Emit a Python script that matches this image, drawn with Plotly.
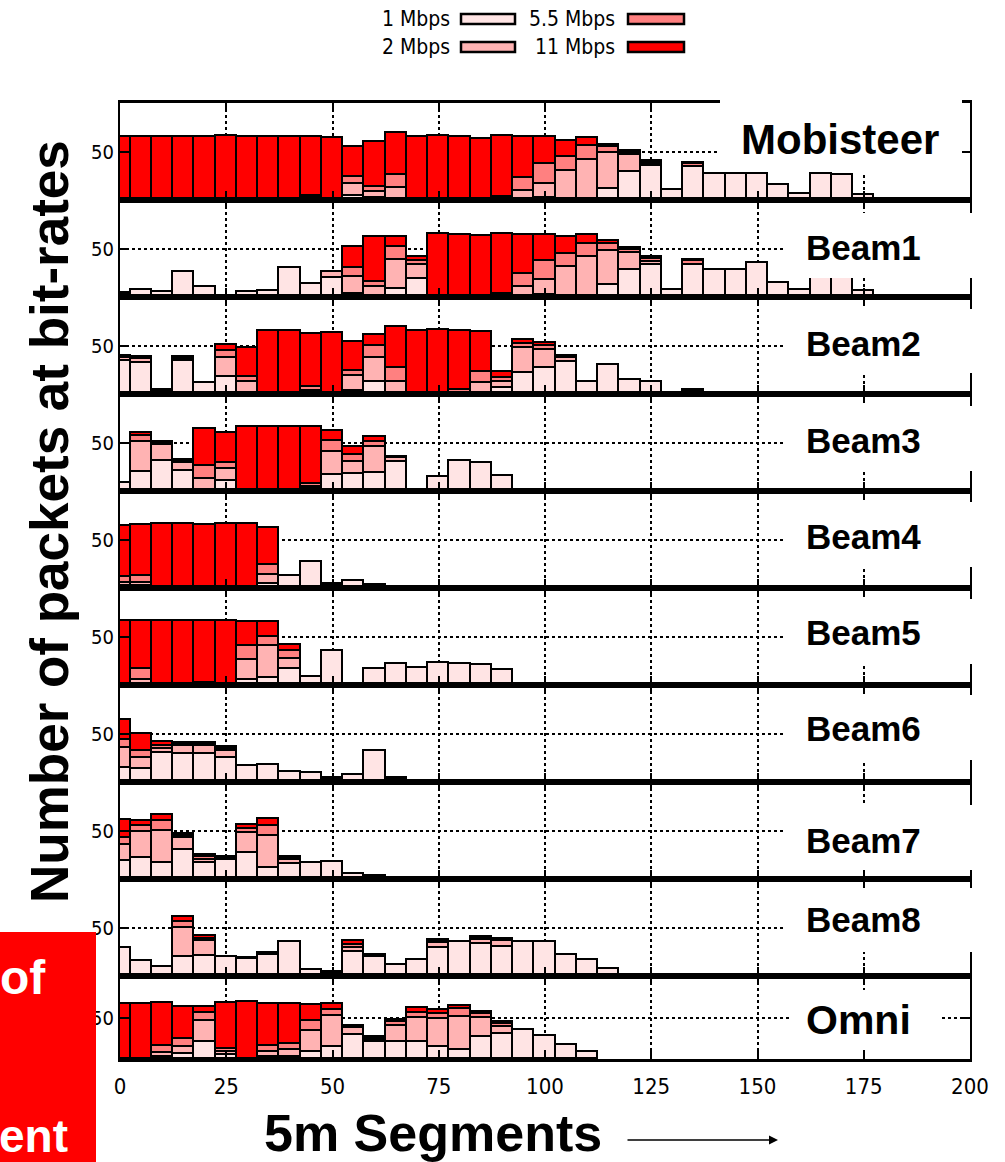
import plotly.graph_objects as go

W, H = 1005, 1162

# ---------------- data ----------------
segments = [0, 5, 10, 15, 20, 25, 30, 35, 40, 45, 50, 55, 60, 65, 70, 75, 80, 85,
            90, 95, 100, 105, 110, 115, 120, 125, 130, 135, 140, 145, 150, 155, 160, 165, 170, 175]
x_ticks = [0, 25, 50, 75, 100, 125, 150, 175, 200]
rate_names = ["1 Mbps", "2 Mbps", "5.5 Mbps", "11 Mbps"]
panel_names = ["Mobisteer", "Beam1", "Beam2", "Beam3", "Beam4", "Beam5", "Beam6", "Beam7", "Beam8", "Omni"]

mob_1 = [0, 0, 0, 0, 0, 0, 0, 0, 0, 1, 0, 4, 2, 1, 0, 0, 0, 0, 0, 1, 2, 1, 0, 11, 29, 35, 10, 34, 27, 27, 27, 16, 6, 27, 26, 5]
mob_2 = [0, 0, 0, 0, 0, 0, 0, 0, 0, 1, 0, 13, 6, 12, 0, 0, 0, 0, 0, 8, 15, 29, 42, 38, 18, 2, 0, 0, 0, 0, 0, 0, 0, 0, 0, 0]
mob_55 = [0, 0, 0, 0, 0, 0, 0, 0, 0, 2, 0, 7, 6, 13, 0, 0, 0, 0, 3, 14, 21, 15, 14, 6, 2, 3, 0, 3, 0, 0, 0, 0, 0, 0, 0, 0]
mob_11 = [66, 66, 66, 66, 66, 67, 66, 66, 66, 62, 65, 31, 46, 44, 66, 67, 66, 64, 64, 43, 28, 16, 9, 2, 2, 1, 0, 2, 0, 0, 0, 0, 0, 0, 0, 0]

b1_1 = [2, 7, 5, 26, 10, 0, 5, 6, 30, 14, 20, 3, 1, 8, 19, 0, 0, 0, 0, 1, 2, 1, 0, 12, 28, 33, 7, 33, 28, 28, 35, 15, 7, 27, 26, 6]
b1_2 = [2, 0, 0, 0, 0, 0, 0, 0, 0, 0, 6, 18, 9, 31, 14, 0, 0, 0, 0, 9, 16, 30, 42, 36, 18, 3, 0, 0, 0, 0, 0, 0, 0, 0, 0, 0]
b1_55 = [0, 0, 0, 0, 0, 0, 0, 0, 0, 0, 0, 9, 6, 13, 5, 0, 0, 0, 3, 14, 20, 14, 13, 7, 3, 4, 0, 4, 0, 0, 0, 0, 0, 0, 0, 0]
b1_11 = [0, 0, 0, 0, 0, 0, 0, 0, 0, 0, 0, 22, 46, 10, 4, 66, 65, 64, 63, 41, 27, 17, 10, 3, 2, 2, 0, 2, 0, 0, 0, 0, 0, 0, 0, 0]

b2_1 = [34, 32, 2, 34, 11, 18, 1, 0, 0, 1, 0, 3, 12, 1, 0, 0, 0, 1, 6, 22, 27, 33, 12, 30, 15, 13, 1, 2]
b2_2 = [4, 4, 1, 2, 0, 19, 11, 0, 0, 2, 0, 16, 25, 12, 0, 0, 1, 10, 6, 26, 19, 5, 0, 0, 0, 0, 0, 1]
b2_55 = [1, 2, 1, 2, 0, 8, 6, 0, 0, 4, 0, 5, 13, 14, 0, 0, 3, 12, 5, 4, 4, 1, 0, 0, 0, 0, 0, 1]
b2_11 = [1, 1, 0, 1, 0, 6, 30, 66, 66, 55, 64, 30, 11, 43, 66, 67, 62, 42, 6, 4, 3, 1, 0, 0, 0, 0, 0, 0]

b3_1 = [8, 20, 31, 21, 1, 10, 0, 0, 0, 2, 17, 18, 19, 30, 0, 15, 31, 29, 16]
b3_2 = [0, 31, 17, 8, 12, 13, 0, 0, 0, 2, 24, 12, 27, 4, 0, 0, 0, 0, 0]
b3_55 = [0, 6, 2, 2, 13, 6, 0, 0, 0, 3, 11, 7, 5, 1, 0, 0, 0, 0, 0]
b3_11 = [0, 3, 1, 1, 39, 31, 67, 67, 67, 60, 11, 9, 5, 0, 0, 0, 0, 0, 0]

b4_1 = [2, 2, 0, 0, 0, 0, 0, 4, 13, 27, 2, 7, 2]
b4_2 = [3, 3, 0, 0, 0, 0, 0, 10, 0, 0, 1, 0, 1]
b4_55 = [6, 7, 0, 0, 0, 0, 0, 10, 0, 0, 1, 0, 0]
b4_11 = [54, 54, 67, 67, 66, 67, 67, 39, 0, 0, 0, 0, 0]

b5_1 = [0, 1, 0, 0, 0, 0, 5, 7, 17, 8, 35, 0, 17, 22, 18, 23, 22, 21, 16]
b5_2 = [0, 4, 0, 0, 0, 0, 21, 34, 10, 0, 0, 0, 0, 0, 0, 0, 0, 0, 0]
b5_55 = [0, 12, 0, 0, 2, 0, 15, 9, 8, 0, 0, 0, 0, 0, 0, 0, 0, 0, 0]
b5_11 = [67, 50, 67, 67, 65, 67, 25, 16, 7, 0, 0, 0, 0, 0, 0, 0, 0, 0, 0]

b6_1 = [15, 14, 30, 29, 29, 25, 17, 18, 10, 9, 3, 7, 32, 3]
b6_2 = [20, 11, 4, 8, 8, 7, 0, 0, 0, 0, 1, 0, 0, 1]
b6_55 = [9, 7, 4, 2, 2, 2, 0, 0, 0, 0, 0, 0, 0, 0]
b6_11 = [21, 18, 4, 2, 2, 2, 0, 0, 0, 0, 0, 0, 0, 0]

b7_1 = [19, 22, 17, 30, 17, 20, 27, 11, 16, 17, 18, 5, 2]
b7_2 = [16, 27, 33, 13, 3, 2, 21, 34, 4, 0, 0, 0, 1]
b7_55 = [8, 6, 10, 2, 3, 1, 4, 10, 2, 0, 0, 0, 0]
b7_11 = [18, 5, 7, 2, 2, 0, 4, 8, 1, 0, 0, 0, 0]

b8_1 = [29, 16, 9, 20, 21, 20, 18, 22, 35, 6, 2, 25, 20, 11, 17, 29, 35, 33, 30, 35, 35, 22, 17, 7]
b8_2 = [0, 0, 0, 30, 15, 0, 1, 2, 0, 0, 1, 4, 2, 0, 0, 5, 0, 5, 6, 0, 0, 0, 0, 0]
b8_55 = [0, 0, 0, 6, 3, 0, 0, 0, 0, 0, 1, 3, 0, 0, 0, 2, 0, 1, 1, 0, 0, 0, 0, 0]
b8_11 = [0, 0, 0, 5, 3, 0, 0, 0, 0, 0, 0, 4, 0, 0, 0, 2, 0, 2, 2, 0, 0, 0, 0, 0]

om_1 = [0, 0, 2, 6, 21, 5, 0, 2, 3, 8, 15, 29, 20, 20, 20, 15, 11, 26, 30, 35, 28, 17, 8]
om_2 = [0, 0, 5, 9, 25, 3, 0, 7, 8, 26, 37, 8, 3, 20, 30, 33, 40, 24, 8, 0, 0, 0, 0]
om_55 = [0, 0, 9, 9, 9, 4, 0, 7, 7, 12, 7, 2, 2, 4, 6, 6, 9, 4, 4, 0, 0, 0, 0]
om_11 = [66, 66, 51, 39, 8, 55, 69, 50, 48, 19, 7, 1, 1, 3, 5, 5, 4, 3, 3, 0, 0, 0, 0]

panels = [
    (mob_1, mob_2, mob_55, mob_11),
    (b1_1, b1_2, b1_55, b1_11),
    (b2_1, b2_2, b2_55, b2_11),
    (b3_1, b3_2, b3_55, b3_11),
    (b4_1, b4_2, b4_55, b4_11),
    (b5_1, b5_2, b5_55, b5_11),
    (b6_1, b6_2, b6_55, b6_11),
    (b7_1, b7_2, b7_55, b7_11),
    (b8_1, b8_2, b8_55, b8_11),
    (om_1, om_2, om_55, om_11),
]

# ---------------- styling ----------------
colors = ["#ffe4e4", "#ffb3b3", "#ff8080", "#ff0000"]
NARROW = "Liberation Sans Narrow, DejaVu Sans Condensed, Liberation Sans, Arial, sans-serif"
BOLD = "Liberation Sans, Arial, Helvetica, sans-serif"


def X(px):
    return px / W


def Y(py):
    return 1 - py / H


tops = [103 + 97 * i for i in range(10)]
bases = [t + 97 for t in tops[:9]] + [1059]
yranges = [101] * 9 + [100]

fig = go.Figure()
for i, series in enumerate(panels):
    k = "" if i == 0 else str(i + 1)
    for r, vals in enumerate(series):
        fig.add_trace(go.Bar(
            x=segments[:len(vals)],
            y=[v if v else None for v in vals],
            width=5,
            name=rate_names[r],
            marker=dict(color=colors[r], line=dict(color="black", width=1.6)),
            xaxis="x" + k, yaxis="y" + k,
            showlegend=False,
        ))

layout = dict(
    width=W, height=H, autosize=False,
    margin=dict(l=0, r=0, t=0, b=0, pad=0),
    paper_bgcolor="white", plot_bgcolor="white",
    barmode="stack", bargap=0,
)
for i in range(10):
    k = "" if i == 0 else str(i + 1)
    last = i == 9
    layout["xaxis" + k] = dict(
        domain=[X(120), X(970)], range=[0, 200], anchor="y" + k,
        tickvals=x_ticks, ticktext=[str(t) for t in x_ticks],
        showticklabels=last, ticks="inside", ticklen=9, tickwidth=2, tickcolor="black",
        showline=True, linecolor="black", linewidth=3, mirror="ticks",
        showgrid=True, gridcolor="black", gridwidth=1.5, griddash="dot",
        zeroline=False, automargin=False, tickfont=dict(family=NARROW, size=22, color="black"),
        ticklabelstandoff=6,
    )
    layout["yaxis" + k] = dict(
        domain=[Y(bases[i]), Y(tops[i])], range=[0, yranges[i]], anchor="x" + k,
        tickvals=[50], ticktext=["50"],
        ticks="inside", ticklen=9, tickwidth=2, tickcolor="black",
        showline=True, linecolor="black", linewidth=2, mirror="ticks",
        showgrid=True, gridcolor="black", gridwidth=1.5, griddash="dot",
        zeroline=False, automargin=False, tickfont=dict(family=NARROW, size=20, color="black"),
    )
fig.update_layout(**layout)

shapes = []
annotations = []

# legend (text left of swatch, two columns)
leg = [(0, 452, 461, 515, 19), (1, 452, 461, 515, 47), (2, 617, 628, 684, 19), (3, 617, 628, 684, 47)]
for r, tx, bx0, bx1, cy in leg:
    shapes.append(dict(type="rect", xref="paper", yref="paper",
                       x0=X(bx0), x1=X(bx1), y0=Y(cy - 5), y1=Y(cy + 5),
                       fillcolor=colors[r], line=dict(color="black", width=2.5)))
    annotations.append(dict(x=X(tx), y=Y(cy), xref="paper", yref="paper", xanchor="right",
                            yanchor="middle", showarrow=False, text=rate_names[r],
                            font=dict(family=NARROW, size=21, color="black")))

# panel labels in white boxes
label_boxes = [
    (720, 962, 100, 172, 840, 140, 42),
    (783, 976, 213, 278, 863, 247, 35),
    (783, 976, 309, 373, 863, 343, 35),
    (783, 976, 406, 471, 863, 440, 35),
    (783, 976, 502, 567, 863, 536, 35),
    (783, 976, 599, 664, 863, 632, 35),
    (783, 976, 695, 760, 863, 728, 35),
    (783, 976, 805, 870, 863, 840, 35),
    (783, 976, 888, 952, 863, 920, 35),
    (790, 940, 990, 1050, 858, 1020, 41),
]
for i, (bx0, bx1, by0, by1, tx, ty, fs) in enumerate(label_boxes):
    shapes.append(dict(type="rect", xref="paper", yref="paper", layer="above",
                       x0=X(bx0), x1=X(bx1), y0=Y(by1), y1=Y(by0),
                       fillcolor="white", line=dict(width=0)))
    annotations.append(dict(x=X(tx), y=Y(ty), xref="paper", yref="paper",
                            xanchor="center", yanchor="middle", showarrow=False,
                            text=panel_names[i],
                            font=dict(family=BOLD, size=fs, color="black", weight="bold")))

# red box at bottom-left
shapes.append(dict(type="rect", xref="paper", yref="paper", layer="above",
                   x0=X(0), x1=X(96), y0=Y(1162), y1=Y(932),
                   fillcolor="#ff0000", line=dict(width=0)))
annotations.append(dict(x=X(48), y=Y(977), xref="paper", yref="paper", xanchor="right",
                        yanchor="middle", showarrow=False, text="of",
                        font=dict(family=BOLD, size=48, color="white", weight="bold")))
annotations.append(dict(x=X(70), y=Y(1136), xref="paper", yref="paper", xanchor="right",
                        yanchor="middle", showarrow=False, text="ent",
                        font=dict(family=BOLD, size=46, color="white", weight="bold")))

# axis titles
annotations.append(dict(x=X(50), y=Y(522), xref="paper", yref="paper", xanchor="center",
                        yanchor="middle", showarrow=False, textangle=-90,
                        text="Number of packets at bit-rates",
                        font=dict(family=BOLD, size=53, color="black", weight="bold")))
annotations.append(dict(x=X(433), y=Y(1133), xref="paper", yref="paper", xanchor="center",
                        yanchor="middle", showarrow=False, text="5m Segments",
                        font=dict(family=BOLD, size=52, color="black", weight="bold")))
annotations.append(dict(x=X(778), y=Y(1140), xref="paper", yref="paper",
                        ax=-152, ay=0, axref="pixel", ayref="pixel", text="",
                        showarrow=True, arrowhead=2, arrowsize=1.2, arrowwidth=1.5,
                        arrowcolor="black"))

fig.update_layout(shapes=shapes, annotations=annotations)
fig.write_html("out.html")
